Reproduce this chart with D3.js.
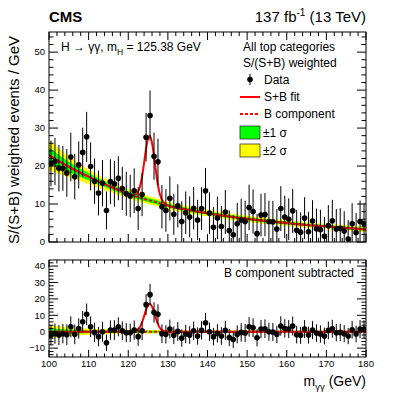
<!DOCTYPE html>
<html>
<head>
<meta charset="utf-8">
<script src="https://cdn.jsdelivr.net/npm/d3@7"></script>
<style>
  body { margin: 0; background: #fff; }
  text { font-family: "Liberation Sans", Arial, Helvetica, sans-serif; fill: #000; }
</style>
</head>
<body>
<div id="chart"></div>
<script>
// bin centres, 1 GeV bins from 100 to 180
const binCenters = [100.5,101.5,102.5,103.5,104.5,105.5,106.5,107.5,108.5,109.5,
  110.5,111.5,112.5,113.5,114.5,115.5,116.5,117.5,118.5,119.5,
  120.5,121.5,122.5,123.5,124.5,125.5,126.5,127.5,128.5,129.5,
  130.5,131.5,132.5,133.5,134.5,135.5,136.5,137.5,138.5,139.5,
  140.5,141.5,142.5,143.5,144.5,145.5,146.5,147.5,148.5,149.5,
  150.5,151.5,152.5,153.5,154.5,155.5,156.5,157.5,158.5,159.5,
  160.5,161.5,162.5,163.5,164.5,165.5,166.5,167.5,168.5,169.5,
  170.5,171.5,172.5,173.5,174.5,175.5,176.5,177.5,178.5,179.5];

// weighted data (top panel)
const dataValues = [20.7,21.2,19.4,19.4,18.2,22.4,17.2,20.3,23.6,27.7,
  19.9,16.0,12.9,15.5,8.3,15.9,15.3,16.8,14.1,12.7,
  12.1,13.5,8.8,12.5,27.6,33.3,22.6,21.1,9.3,8.3,
  11.5,7.3,9.5,5.4,7.7,6.6,8.9,5.8,8.8,13.5,
  7.6,3.9,6.3,4.1,7.9,3.0,1.9,4.8,5.8,5.4,
  9.1,8.0,2.2,7.1,7.2,5.4,5.3,3.4,8.8,6.6,
  6.0,8.2,3.1,2.6,6.3,2.7,5.5,3.5,3.2,1.5,
  4.3,5.6,3.4,3.6,2.9,0.8,4.8,2.5,5.4,4.8];

// statistical errors
const dataErrors = [6.0,6.2,6.1,5.9,6.3,6.4,6.0,6.2,6.5,6.6,
  6.3,6.0,5.9,6.1,5.0,5.9,6.0,5.8,5.7,5.8,
  5.6,5.9,5.6,5.7,6.4,6.6,6.2,6.1,5.7,5.6,
  5.8,5.4,5.7,5.3,5.6,5.4,5.6,5.3,5.6,6.0,
  5.5,5.3,5.6,5.4,5.8,5.3,5.2,5.5,5.6,5.5,
  6.0,5.8,5.2,5.6,5.7,5.5,5.5,5.3,5.9,5.6,
  5.5,5.8,5.3,5.2,5.5,5.2,5.5,5.3,5.3,5.1,
  5.4,5.5,5.3,5.3,5.2,5.0,5.4,5.1,5.5,5.4];

// data minus B component (bottom panel)
const subValues = [-2.0,-1.2,-2.0,-1.2,-1.8,3.0,-1.6,2.0,6.1,10.6,
  3.0,-0.4,-3.0,0.0,-6.7,1.0,1.0,3.0,0.6,-0.6,
  -0.6,1.0,-3.0,0.6,16.5,22.6,11.8,10.6,-1.2,-1.6,
  1.6,-2.2,0.2,-3.9,-1.4,-2.0,0.6,-2.6,0.8,5.5,
  0.0,-3.0,-1.0,-2.6,0.8,-3.5,-4.7,-1.6,-0.4,-0.8,
  3.0,2.4,-3.7,1.6,1.8,0.0,-0.2,-1.6,3.5,2.0,
  1.6,3.5,-1.8,-2.2,1.6,-2.0,1.0,-0.8,-1.4,-2.6,
  0.8,1.8,-0.6,-0.4,-1.2,-2.6,1.2,-1.4,1.6,1.6];

// fit curves
const curveMass = [100,105,110,115,120,121,122,122.5,123,123.5,124,124.5,125,125.4,126,
  126.5,127,127.5,128,129,130,135,140,145,150,155,160,165,170,175,180];
const bkgFit = [22.8,19.8,17.2,14.8,12.7,12.35,12.0,11.85,11.7,11.5,11.35,11.2,11.05,10.95,10.8,
  10.65,10.5,10.35,10.2,9.9,9.6,8.5,7.6,6.8,6.1,5.5,5.0,4.5,4.1,3.7,3.3];
const sigFit = [0,0,0,0,0,0.05,0.55,1.4,3.1,5.8,9.5,13.4,16.2,17.0,15.3,
  11.9,8.0,4.6,2.3,0.4,0.03,0,0,0,0,0,0,0,0,0,0];
const band1 = [2.0,1.35,0.95,0.73,0.6,0.59,0.58,0.57,0.57,0.56,0.55,0.55,0.54,0.53,0.53,
  0.52,0.52,0.51,0.5,0.49,0.48,0.45,0.43,0.41,0.4,0.39,0.38,0.37,0.36,0.36,0.35];
const band2 = [4.0,2.7,1.9,1.45,1.2,1.18,1.15,1.14,1.13,1.12,1.1,1.09,1.07,1.06,1.05,
  1.04,1.03,1.02,1.0,0.98,0.95,0.9,0.85,0.82,0.8,0.78,0.75,0.74,0.72,0.71,0.7];

const xTicks = [100,110,120,130,140,150,160,170,180];
const yTopTicks = [0,10,20,30,40,50];
const yBotTicks = [-10,0,10,20,30,40];

const width = 407, height = 393;
const L = 49, R = 366;
const topY0 = 32, topY1 = 242;
const botY0 = 260, botY1 = 357;

const svg = d3.select('#chart').append('svg')
  .attr('width', width)
  .attr('height', height);

const x = d3.scaleLinear().domain([100, 180]).range([L, R]);
const yTop = d3.scaleLinear().domain([0, 55.3]).range([topY1, topY0]);
const yBot = d3.scaleLinear().domain([-15.4, 43.7]).range([botY1, botY0]);

const defs = svg.append('defs');
defs.append('clipPath').attr('id', 'clipTop')
  .append('rect').attr('x', L).attr('y', topY0).attr('width', R - L).attr('height', topY1 - topY0);
defs.append('clipPath').attr('id', 'clipBot')
  .append('rect').attr('x', L).attr('y', botY0).attr('width', R - L).attr('height', botY1 - botY0);

const curvePts = curveMass.map((m, i) => ({ m: m, b: bkgFit[i], s: sigFit[i], e1: band1[i], e2: band2[i] }));
const pts = binCenters.map((m, i) => ({ m: m, v: dataValues[i], sv: subValues[i], e: dataErrors[i] }));

function drawPanel(g, y, useSub) {
  const base = d => useSub ? 0 : d.b;
  const band = key => d3.area()
    .x(d => x(d.m))
    .y0(d => y(base(d) - d[key]))
    .y1(d => y(base(d) + d[key]))
    .curve(d3.curveMonotoneX);

  g.append('path').datum(curvePts).attr('d', band('e2')).attr('fill', '#ffff00');
  g.append('path').datum(curvePts).attr('d', band('e1')).attr('fill', '#00ff00');

  g.append('path').datum(curvePts)
    .attr('d', d3.line().x(d => x(d.m)).y(d => y(base(d))).curve(d3.curveMonotoneX))
    .attr('fill', 'none').attr('stroke', '#ff0000').attr('stroke-width', 2)
    .attr('stroke-dasharray', '3,2');

  g.append('path').datum(curvePts)
    .attr('d', d3.line().x(d => x(d.m)).y(d => y(base(d) + d.s)).curve(d3.curveMonotoneX))
    .attr('fill', 'none').attr('stroke', '#ff0000').attr('stroke-width', 2);

  const val = d => useSub ? d.sv : d.v;
  g.selectAll('line.err').data(pts).enter().append('line')
    .attr('class', 'err')
    .attr('x1', d => x(d.m)).attr('x2', d => x(d.m))
    .attr('y1', d => y(val(d) - d.e)).attr('y2', d => y(val(d) + d.e))
    .attr('stroke', '#000').attr('stroke-width', 1);

  g.selectAll('circle').data(pts).enter().append('circle')
    .attr('cx', d => x(d.m)).attr('cy', d => y(val(d)))
    .attr('r', 2.8).attr('fill', '#000');
}

function drawFrame(y, y0, y1, yMajor, yMinorFrom, yMinorTo, xLen, yLen) {
  const g = svg.append('g');
  const xMinor = d3.range(100, 180.01, 2);
  xMinor.forEach(v => {
    const len = v % 10 === 0 ? xLen : xLen / 2;
    g.append('line').attr('x1', x(v)).attr('x2', x(v)).attr('y1', y1).attr('y2', y1 - len).attr('stroke', '#000');
    g.append('line').attr('x1', x(v)).attr('x2', x(v)).attr('y1', y0).attr('y2', y0 + len).attr('stroke', '#000');
  });
  d3.range(yMinorFrom, yMinorTo + 0.01, 2).forEach(v => {
    const len = v % 10 === 0 ? yLen : yLen / 2;
    g.append('line').attr('x1', L).attr('x2', L + len).attr('y1', y(v)).attr('y2', y(v)).attr('stroke', '#000');
    g.append('line').attr('x1', R).attr('x2', R - len).attr('y1', y(v)).attr('y2', y(v)).attr('stroke', '#000');
  });
  g.append('rect').attr('x', L).attr('y', y0).attr('width', R - L).attr('height', y1 - y0)
    .attr('fill', 'none').attr('stroke', '#000').attr('stroke-width', 1);
  yMajor.forEach(v => {
    g.append('text').attr('x', L - 4).attr('y', y(v) + 3.3)
      .attr('text-anchor', 'end').style('font-size', '9.5px')
      .text(v < 0 ? '\u2212' + Math.abs(v) : v);
  });
}

const gTop = svg.append('g').attr('clip-path', 'url(#clipTop)');
drawPanel(gTop, yTop, false);
const gBot = svg.append('g').attr('clip-path', 'url(#clipBot)');
drawPanel(gBot, yBot, true);

drawFrame(yTop, topY0, topY1, yTopTicks, 0, 54, 8, 9);
drawFrame(yBot, botY0, botY1, yBotTicks, -14, 42, 7, 9);

xTicks.forEach(v => {
  svg.append('text').attr('x', x(v)).attr('y', 367)
    .attr('text-anchor', 'middle').style('font-size', '9.5px').text(v);
});

// header
svg.append('text').attr('x', L).attr('y', 22).style('font-size', '15px').style('font-weight', 'bold').text('CMS');
const lumi = svg.append('text').attr('x', R).attr('y', 22).attr('text-anchor', 'end').style('font-size', '15px');
lumi.append('tspan').text('137 fb');
lumi.append('tspan').attr('dy', -6).style('font-size', '10px').text('-1');
lumi.append('tspan').attr('dy', 6).text(' (13 TeV)');

const hText = svg.append('text').attr('x', 61).attr('y', 51).style('font-size', '12px');
hText.append('tspan').text('H \u2192 \u03b3\u03b3, m');
hText.append('tspan').attr('dy', 4).style('font-size', '8.5px').text('H');
hText.append('tspan').attr('dy', -4).text(' = 125.38 GeV');

// legend
const lx = 240;
svg.append('text').attr('x', 243).attr('y', 51).style('font-size', '12px').text('All top categories');
svg.append('text').attr('x', 243).attr('y', 67).style('font-size', '12px').text('S/(S+B) weighted');
svg.append('line').attr('x1', 250).attr('x2', 250).attr('y1', 74).attr('y2', 85).attr('stroke', '#000');
svg.append('circle').attr('cx', 250).attr('cy', 79.5).attr('r', 2.8).attr('fill', '#000');
svg.append('text').attr('x', 264).attr('y', 84).style('font-size', '12px').text('Data');
svg.append('line').attr('x1', lx).attr('x2', lx + 20).attr('y1', 97).attr('y2', 97)
  .attr('stroke', '#ff0000').attr('stroke-width', 2);
svg.append('text').attr('x', 264).attr('y', 101).style('font-size', '12px').text('S+B fit');
svg.append('line').attr('x1', lx).attr('x2', lx + 20).attr('y1', 114).attr('y2', 114)
  .attr('stroke', '#ff0000').attr('stroke-width', 2).attr('stroke-dasharray', '3,2');
svg.append('text').attr('x', 264).attr('y', 118).style('font-size', '12px').text('B component');
svg.append('rect').attr('x', lx).attr('y', 126).attr('width', 20).attr('height', 13)
  .attr('fill', '#00ff00').attr('stroke', '#333').attr('stroke-width', 0.8);
svg.append('text').attr('x', 263).attr('y', 137).style('font-size', '12px').text('\u00b11 \u03c3');
svg.append('rect').attr('x', lx).attr('y', 144).attr('width', 20).attr('height', 13)
  .attr('fill', '#ffff00').attr('stroke', '#333').attr('stroke-width', 0.8);
svg.append('text').attr('x', 263).attr('y', 155).style('font-size', '12px').text('\u00b12 \u03c3');

svg.append('text').attr('x', 354).attr('y', 277).attr('text-anchor', 'end')
  .style('font-size', '12px').text('B component subtracted');

// axis titles
svg.append('text').attr('transform', 'translate(19,140) rotate(-90)')
  .attr('text-anchor', 'middle').style('font-size', '15px')
  .text('S/(S+B) weighted events / GeV');

const xt = svg.append('text').attr('x', R).attr('y', 386).attr('text-anchor', 'end').style('font-size', '14px');
xt.append('tspan').text('m');
xt.append('tspan').attr('dy', 4).style('font-size', '9.5px').text('\u03b3\u03b3');
xt.append('tspan').attr('dy', -4).text(' (GeV)');
</script>
</body>
</html>
